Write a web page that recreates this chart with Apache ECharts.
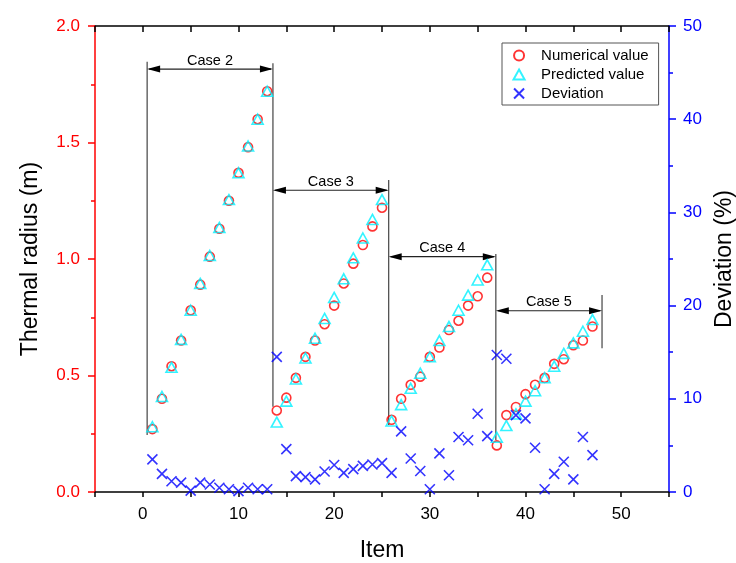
<!DOCTYPE html>
<html>
<head>
<meta charset="UTF-8">
<title>Thermal radius</title>
<script src="https://cdn.jsdelivr.net/npm/echarts@6/dist/echarts.min.js"></script>
<style>
  html, body { margin: 0; padding: 0; background: #fff; }
  #main { width: 736px; height: 563px; }
</style>
</head>
<body>
<div id="main"></div>
<script type="text/javascript">
  // item numbers
  var items = [1, 2, 3, 4, 5, 6, 7, 8, 9, 10, 11, 12, 13,
    14, 15, 16, 17, 18, 19, 20, 21, 22, 23, 24, 25,
    26, 27, 28, 29, 30, 31, 32, 33, 34, 35, 36,
    37, 38, 39, 40, 41, 42, 43, 44, 45, 46, 47];
  // thermal radius (m), numerical
  var numerical = [0.27, 0.40, 0.54, 0.65, 0.78, 0.89, 1.01, 1.13, 1.25, 1.37, 1.48, 1.60, 1.72,
    0.35, 0.405, 0.49, 0.58, 0.65, 0.72, 0.80, 0.895, 0.98, 1.06, 1.14, 1.22,
    0.31, 0.40, 0.46, 0.495, 0.58, 0.62, 0.695, 0.735, 0.80, 0.84, 0.92,
    0.20, 0.33, 0.365, 0.42, 0.46, 0.49, 0.55, 0.57, 0.63, 0.65, 0.71];
  // thermal radius (m), predicted
  var predicted = [0.28, 0.41, 0.535, 0.655, 0.78, 0.895, 1.015, 1.135, 1.255, 1.37, 1.485, 1.60, 1.72,
    0.30, 0.39, 0.485, 0.575, 0.66, 0.745, 0.835, 0.915, 1.005, 1.09, 1.17, 1.255,
    0.305, 0.375, 0.445, 0.51, 0.58, 0.65, 0.71, 0.78, 0.845, 0.91, 0.975,
    0.235, 0.285, 0.335, 0.39, 0.435, 0.49, 0.54, 0.595, 0.64, 0.69, 0.74];
  // deviation (%)
  var deviation = [3.5, 1.95, 1.15, 1.0, 0.15, 1.0, 0.8, 0.45, 0.3, 0.1, 0.45, 0.3, 0.3,
    14.5, 4.6, 1.7, 1.6, 1.35, 2.2, 2.9, 2.05, 2.45, 2.8, 2.95, 3.1,
    2.05, 6.5, 3.6, 2.25, 0.3, 4.15, 1.8, 5.9, 5.55, 8.4, 6.0,
    14.7, 14.3, 8.25, 7.9, 4.75, 0.3, 1.95, 3.25, 1.35, 5.9, 3.95];

  // case brackets (item units / left axis units)
  var caseNames = ['Case 2', 'Case 3', 'Case 4', 'Case 5'];
  var caseFrom = [0.45, 13.6, 25.7, 36.9];
  var caseTo = [13.6, 25.7, 36.9, 48.0];
  var caseArrowY = [1.815, 1.295, 1.01, 0.778];
  var dividerX = [0.45, 13.6, 25.7, 36.9, 48.0];
  var dividerTop = [1.847, 1.84, 1.339, 1.021, 0.845];
  var dividerBottom = [0.245, 0.366, 0.288, 0.223, 0.617];

  var xTicks = [-5, 55, 5];
  var leftTicks = [0, 2, 0.5];
  var rightTicks = [0, 50, 10];

  function pairs(xs, ys) {
    return xs.map(function (x, i) { return [x, ys[i]]; });
  }

  var FONT = 'Liberation Sans, Arial, sans-serif';
  var myChart = echarts.init(document.getElementById('main'));

  var option = {
    animation: false,
    textStyle: { fontFamily: FONT },
    grid: { left: 95, right: 67, top: 26, bottom: 71, containLabel: false, outerBoundsMode: 'none' },
    legend: {
      data: ['Numerical value', 'Predicted value', 'Deviation'],
      orient: 'vertical',
      left: 502,
      top: 43,
      padding: [5, 10, 4, 9],
      itemGap: 4,
      itemWidth: 34,
      itemHeight: 10,
      symbolKeepAspect: true,
      borderColor: '#555',
      borderWidth: 1,
      textStyle: { fontSize: 15, color: '#000', fontFamily: FONT }
    },
    xAxis: [{
      type: 'value',
      position: 'bottom',
      min: xTicks[0], max: xTicks[1], interval: xTicks[2],
      name: 'Item',
      nameLocation: 'middle',
      nameGap: 47,
      nameTextStyle: { fontSize: 23, color: '#000', fontFamily: FONT },
      axisLine: { onZero: false, lineStyle: { color: '#000', width: 1.5 } },
      axisTick: { show: true, inside: false, length: 5, lineStyle: { color: '#000', width: 1.5 } },
      axisLabel: {
        fontSize: 17, color: '#000', margin: 14,
        formatter: function (v) { return (v % 10 === 0 && v >= 0 && v <= 50) ? String(v) : ''; }
      },
      splitLine: { show: false }
    }, {
      type: 'value',
      position: 'top',
      min: xTicks[0], max: xTicks[1], interval: xTicks[2],
      axisLine: { onZero: false, lineStyle: { color: '#000', width: 1.5 } },
      axisTick: { show: true, inside: true, length: 6, lineStyle: { color: '#000', width: 1.5 } },
      axisLabel: { show: false },
      splitLine: { show: false }
    }],
    yAxis: [{
      type: 'value',
      position: 'left',
      min: leftTicks[0], max: leftTicks[1], interval: leftTicks[2],
      name: 'Thermal radius (m)',
      nameLocation: 'middle',
      nameGap: 53,
      nameTextStyle: { fontSize: 23, color: '#000', fontFamily: FONT },
      axisLine: { show: true, onZero: false, lineStyle: { color: '#ff0000', width: 1.5 } },
      axisTick: { show: true, inside: false, length: 7, lineStyle: { color: '#ff0000', width: 1.5 } },
      minorTick: { show: true, splitNumber: 2, length: 4, lineStyle: { color: '#ff0000', width: 1.5 } },
      axisLabel: {
        fontSize: 17, color: '#ff0000', margin: 15,
        formatter: function (v) { return v.toFixed(1); }
      },
      splitLine: { show: false }
    }, {
      type: 'value',
      position: 'right',
      min: rightTicks[0], max: rightTicks[1], interval: rightTicks[2],
      name: 'Deviation (%)',
      nameLocation: 'middle',
      nameGap: 43,
      nameTextStyle: { fontSize: 23, color: '#000', fontFamily: FONT },
      axisLine: { show: true, onZero: false, lineStyle: { color: '#0000ff', width: 1.5 } },
      axisTick: { show: true, inside: false, length: 7, lineStyle: { color: '#0000ff', width: 1.5 } },
      minorTick: { show: true, splitNumber: 2, length: 4, lineStyle: { color: '#0000ff', width: 1.5 } },
      axisLabel: { fontSize: 17, color: '#0000ff', margin: 14 },
      splitLine: { show: false }
    }],
    series: [{
      name: 'dividers',
      type: 'custom',
      xAxisIndex: 0, yAxisIndex: 0,
      silent: true,
      data: dividerX.map(function (x, i) { return [x, dividerTop[i], dividerBottom[i]]; }),
      renderItem: function (params, api) {
        var a = api.coord([api.value(0), api.value(1)]);
        var b = api.coord([api.value(0), api.value(2)]);
        return {
          type: 'line',
          shape: { x1: a[0], y1: a[1], x2: b[0], y2: b[1] },
          style: { stroke: '#444', lineWidth: 1.2 }
        };
      }
    }, {
      name: 'cases',
      type: 'custom',
      xAxisIndex: 0, yAxisIndex: 0,
      silent: true,
      data: caseFrom.map(function (x, i) { return [x, caseTo[i], caseArrowY[i]]; }),
      renderItem: function (params, api) {
        var p1 = api.coord([api.value(0), api.value(2)]);
        var p2 = api.coord([api.value(1), api.value(2)]);
        var len = 13, hw = 3.5, y = p1[1];
        return {
          type: 'group',
          children: [{
            type: 'line',
            shape: { x1: p1[0] + 2, y1: y, x2: p2[0] - 2, y2: y },
            style: { stroke: '#222', lineWidth: 1.2 }
          }, {
            type: 'polygon',
            shape: { points: [[p1[0], y], [p1[0] + len, y - hw], [p1[0] + len, y + hw]] },
            style: { fill: '#000' }
          }, {
            type: 'polygon',
            shape: { points: [[p2[0], y], [p2[0] - len, y - hw], [p2[0] - len, y + hw]] },
            style: { fill: '#000' }
          }, {
            type: 'text',
            x: (p1[0] + p2[0]) / 2,
            y: y - 1,
            style: {
              text: caseNames[params.dataIndex],
              fill: '#000',
              font: '14.5px ' + FONT,
              align: 'center',
              verticalAlign: 'bottom'
            }
          }]
        };
      }
    }, {
      name: 'Numerical value',
      type: 'scatter',
      xAxisIndex: 0, yAxisIndex: 0,
      symbol: 'circle',
      symbolSize: 9,
      itemStyle: { color: 'none', borderColor: '#ff0000', borderWidth: 1.6 },
      data: pairs(items, numerical)
    }, {
      name: 'Predicted value',
      type: 'scatter',
      xAxisIndex: 0, yAxisIndex: 0,
      symbol: 'path://M5,0L10,9L0,9Z',
      symbolSize: [11, 10],
      itemStyle: { color: 'none', borderColor: '#00f0ff', borderWidth: 1.6 },
      data: pairs(items, predicted)
    }, {
      name: 'Deviation',
      type: 'scatter',
      xAxisIndex: 0, yAxisIndex: 1,
      symbol: 'path://M0,0L10,10M10,0L0,10',
      symbolSize: 10,
      itemStyle: { color: 'none', borderColor: '#0000ff', borderWidth: 1.6 },
      data: pairs(items, deviation)
    }]
  };

  myChart.setOption(option);
</script>
</body>
</html>
